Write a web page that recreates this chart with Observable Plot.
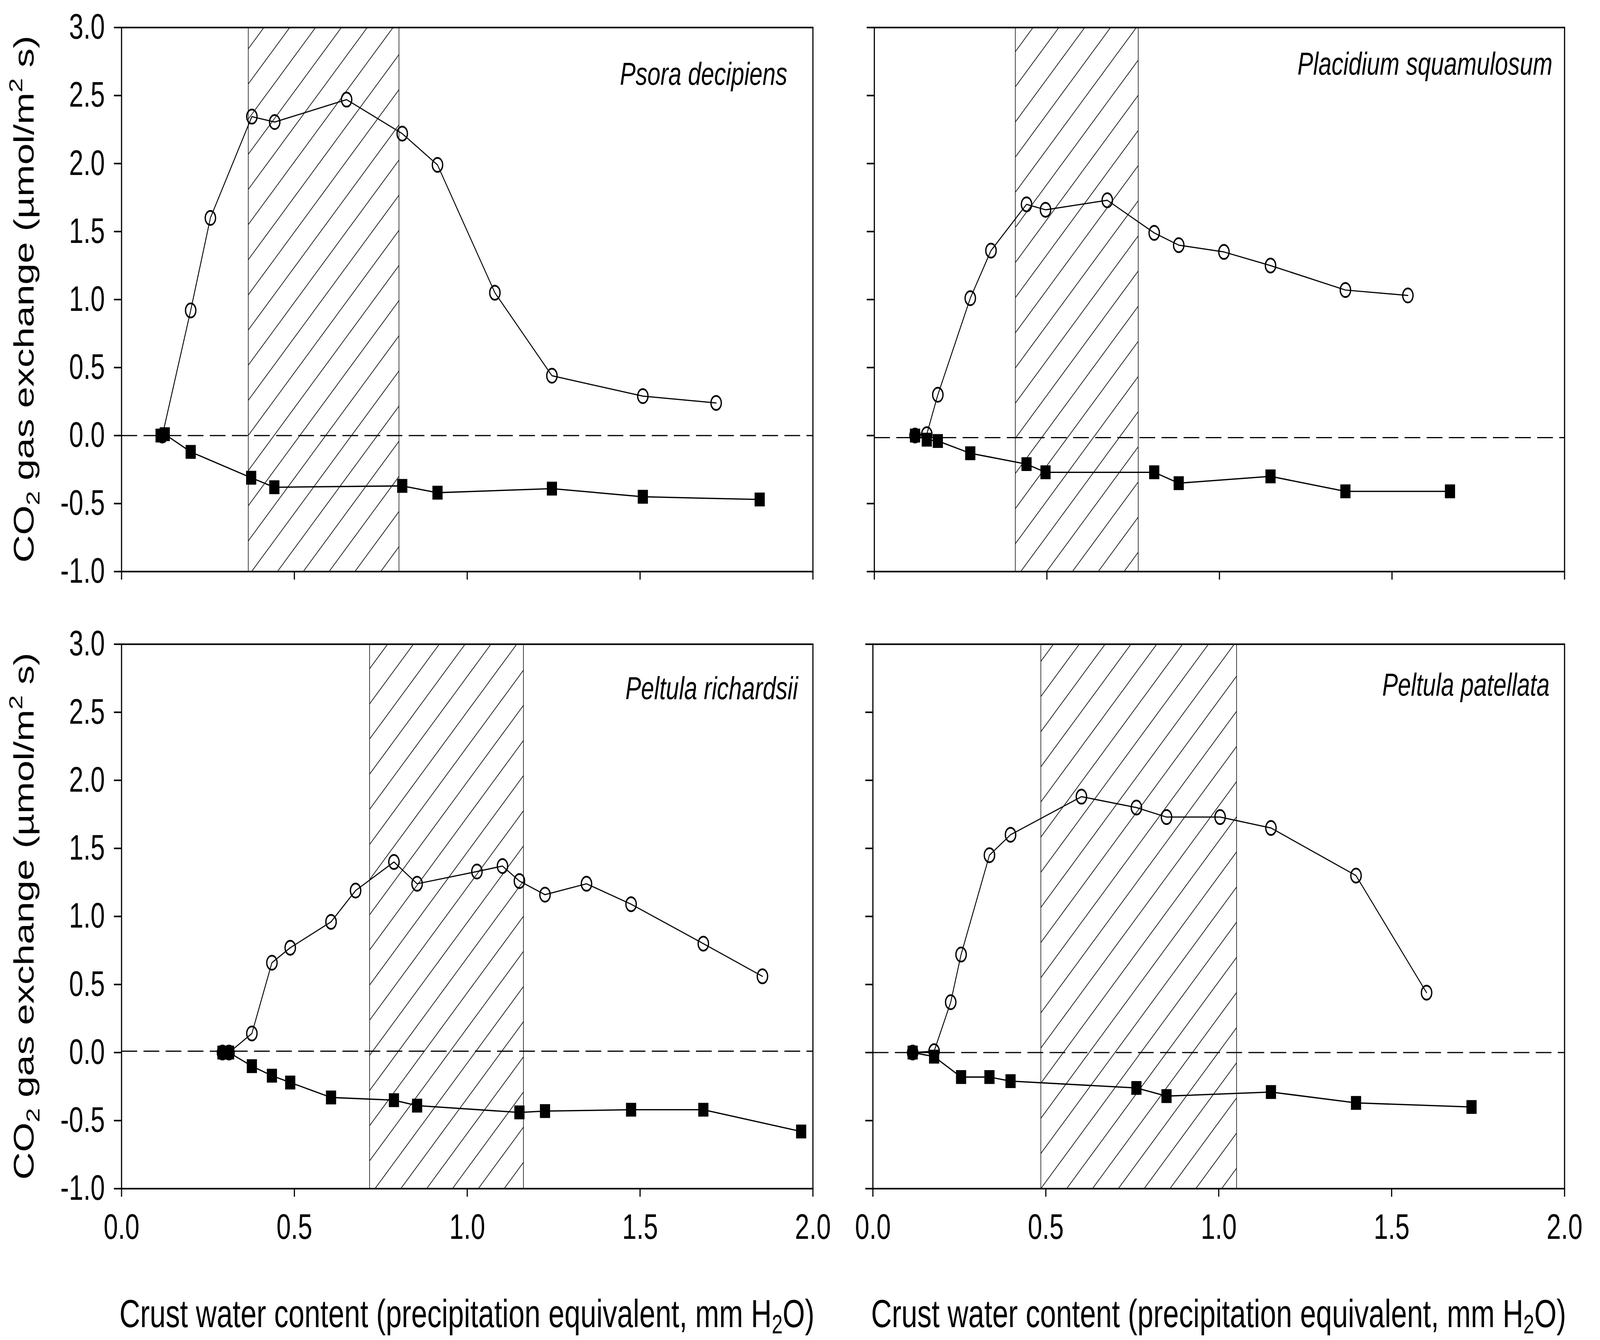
<!DOCTYPE html>
<html><head><meta charset="utf-8">
<script src="https://cdn.jsdelivr.net/npm/d3@7"></script>
<script src="https://cdn.jsdelivr.net/npm/@observablehq/plot@0.6"></script>
<style>
html,body{margin:0;padding:0;background:#fff;overflow:hidden;}
#outer{position:relative;overflow:hidden;background:#fff;}
#root{position:absolute;left:0;top:0;width:5575px;height:3431px;background:#fff;overflow:hidden;transform-origin:0 0;font-family:"Liberation Sans",Arial,sans-serif;}
.panel{position:absolute;}
#overlay{position:absolute;left:0;top:0;pointer-events:none;}
</style></head><body><div id="outer"><div id="root"></div></div>
<script>
// ---------- data ----------
const species = ["Psora decipiens", "Placidium squamulosum", "Peltula richardsii", "Peltula patellata"];

const psoraOpenX   = [0.118, 0.20, 0.257, 0.377, 0.443, 0.651, 0.812, 0.914, 1.080, 1.245, 1.508, 1.720];
const psoraOpenY   = [0.00, 0.92, 1.60, 2.345, 2.305, 2.47, 2.22, 1.99, 1.05, 0.44, 0.29, 0.24];
const psoraFilledX = [0.113, 0.125, 0.20, 0.375, 0.442, 0.812, 0.914, 1.245, 1.508, 1.846];
const psoraFilledY = [0.00, 0.01, -0.12, -0.31, -0.38, -0.37, -0.42, -0.39, -0.45, -0.47];

const placOpenX   = [0.118, 0.152, 0.184, 0.278, 0.338, 0.441, 0.496, 0.675, 0.811, 0.882, 1.013, 1.148, 1.365, 1.546];
const placOpenY   = [0.00, 0.01, 0.30, 1.01, 1.36, 1.70, 1.66, 1.73, 1.49, 1.40, 1.35, 1.25, 1.07, 1.03];
const placFilledX = [0.118, 0.152, 0.184, 0.278, 0.441, 0.496, 0.811, 0.882, 1.148, 1.365, 1.668];
const placFilledY = [0.00, -0.03, -0.04, -0.13, -0.21, -0.27, -0.27, -0.35, -0.30, -0.41, -0.41];

const richOpenX   = [0.292, 0.311, 0.377, 0.435, 0.488, 0.606, 0.677, 0.788, 0.855, 1.028, 1.102, 1.151, 1.225, 1.345, 1.474, 1.683, 1.854];
const richOpenY   = [0.00, 0.00, 0.14, 0.66, 0.77, 0.96, 1.19, 1.40, 1.24, 1.33, 1.37, 1.26, 1.16, 1.24, 1.09, 0.80, 0.56];
const richFilledX = [0.292, 0.311, 0.377, 0.435, 0.488, 0.606, 0.788, 0.855, 1.151, 1.225, 1.474, 1.683, 1.966];
const richFilledY = [0.00, 0.00, -0.10, -0.17, -0.22, -0.33, -0.35, -0.39, -0.44, -0.43, -0.42, -0.42, -0.58];

const patOpenX   = [0.115, 0.177, 0.225, 0.255, 0.337, 0.398, 0.603, 0.762, 0.849, 1.004, 1.151, 1.397, 1.601];
const patOpenY   = [0.00, 0.01, 0.37, 0.72, 1.45, 1.60, 1.88, 1.80, 1.73, 1.73, 1.65, 1.30, 0.44];
const patFilledX = [0.115, 0.177, 0.255, 0.337, 0.398, 0.762, 0.849, 1.151, 1.397, 1.731];
const patFilledY = [0.00, -0.03, -0.18, -0.18, -0.21, -0.26, -0.32, -0.29, -0.37, -0.40];

// hatched optimum ranges (x from, x to)
const bandStart = [0.367, 0.409, 0.718, 0.486];
const bandEnd   = [0.803, 0.765, 1.163, 1.052];
// zero reference line as drawn
const zeroLine = [0.0, -0.015, 0.01, 0.0];

const xTicks = [0, 0.5, 1.0, 1.5, 2.0];
const yTicks = [-1.0, -0.5, 0.0, 0.5, 1.0, 1.5, 2.0, 2.5, 3.0];
const xDomain = [0, 2];
const yDomain = [-1, 3];

const xTitle = "Crust water content (precipitation equivalent, mm H";
const yTitleA = "CO", yTitleB = " gas exchange (µmol/m", yTitleC = " s)";

// ---------- layout (styles / positions) ----------
const openX = [psoraOpenX, placOpenX, richOpenX, patOpenX];
const openY = [psoraOpenY, placOpenY, richOpenY, patOpenY];
const filledX = [psoraFilledX, placFilledX, richFilledX, patFilledX];
const filledY = [psoraFilledY, placFilledY, richFilledY, patFilledY];

const layout = [
  {left: 0,    top: 0,    width: 2900, height: 1560, mL: 423, mR: 68,  mT: 70, mB: 97,  xLab: false, yLab: true,  tdx: -89, tdy: 88},
  {left: 2950, top: 0,    width: 2625, height: 1560, mL: 96,  mR: 124, mT: 70, mB: 97,  xLab: false, yLab: false, tdx: -42, tdy: 62},
  {left: 0,    top: 1560, width: 2900, height: 1640, mL: 423, mR: 68,  mT: 89, mB: 157, xLab: true,  yLab: true,  tdx: -52, tdy: 82},
  {left: 2950, top: 1560, width: 2625, height: 1640, mL: 91,  mR: 124, mT: 89, mB: 157, xLab: true,  yLab: false, tdx: -52, tdy: 73}
];

// map the 5575x3431 drawing onto the window the page actually gets
const W = 5575, H = 3431;
const sx = Math.min(1, (window.innerWidth || W) / W);
const sy = Math.min(1, (window.innerHeight || H) / H);
const outer = document.getElementById("outer");
outer.style.width = (W * sx) + "px";
outer.style.height = (H * sy) + "px";
const root = document.getElementById("root");
root.style.transform = `scale(${sx}, ${sy})`;

const fmt = d => d.toFixed(1);

layout.forEach((L, i) => {
  const opens = openX[i].map((x, k) => ({x, y: openY[i][k]}));
  const filled = filledX[i].map((x, k) => ({x, y: filledY[i][k]}));
  const band = [{x1: bandStart[i], x2: bandEnd[i]}];
  const pid = "hatch" + i;

  const svg = Plot.plot({
    width: L.width, height: L.height,
    marginLeft: L.mL, marginRight: L.mR, marginTop: L.mT, marginBottom: L.mB,
    style: {fontFamily: '"Liberation Sans", Arial, sans-serif', fontSize: "90px", background: "transparent", overflow: "visible", color: "black"},
    x: {domain: xDomain, axis: null},
    y: {domain: yDomain, axis: null},
    marks: [
      Plot.rect(band, {x1: "x1", x2: "x2", fill: `url(#${pid})`, stroke: "black", strokeWidth: 2}),
      Plot.ruleY([zeroLine[i]], {stroke: "black", strokeWidth: 3, strokeDasharray: "55,22"}),
      Plot.line(opens, {x: "x", y: "y", stroke: "black", strokeWidth: 3}),
      Plot.line(filled, {x: "x", y: "y", stroke: "black", strokeWidth: 3.3}),
      Plot.dot(opens, {x: "x", y: "y", r: 18, fill: "none", stroke: "black", strokeWidth: 4.5}),
      Plot.dot(filled, {x: "x", y: "y", r: 20, symbol: "square", fill: "black", stroke: "none"}),
      Plot.frame({stroke: "black", strokeWidth: 4}),
      Plot.axisX({ticks: xTicks, anchor: "bottom", tickSize: 21, tickPadding: 44, strokeWidth: 4,
                  tickFormat: L.xLab ? fmt : () => "", fontSize: 90, label: null}),
      Plot.axisY({ticks: yTicks, anchor: "left", tickSize: 26, tickPadding: 32, strokeWidth: 4,
                  tickFormat: L.yLab ? fmt : () => "", fontSize: 90, label: null}),
      Plot.text([species[i]], {text: d => d, frameAnchor: "top-right", textAnchor: "end", lineAnchor: "top",
                  dx: L.tdx, dy: L.tdy, fontStyle: "italic", fontSize: 82, fill: "black"})
    ]
  });

  d3.select(svg).insert("defs", ":first-child").html(
    `<pattern id="${pid}" patternUnits="userSpaceOnUse" width="90" height="90">
       <path d="M0,90 L90,0 M-22,22 L22,-22 M68,112 L112,68" stroke="black" stroke-width="2" fill="none"/>
     </pattern>`);

  const div = document.createElement("div");
  div.className = "panel";
  div.style.left = L.left + "px";
  div.style.top = L.top + "px";
  div.appendChild(svg);
  root.appendChild(div);
});

// ---------- axis titles (text overlay) ----------
const ov = d3.select(root).append("svg").attr("id", "overlay")
  .attr("width", W).attr("height", H)
  .style("font-family", '"Liberation Sans", Arial, sans-serif');

[1627, 4246].forEach(cx => {
  const t = ov.append("text").attr("x", cx).attr("y", 3398).attr("text-anchor", "middle")
    .attr("font-size", 100).attr("fill", "black");
  t.append("tspan").text(xTitle);
  t.append("tspan").attr("font-size", 68).attr("dy", 16).text("2");
  t.append("tspan").attr("dy", -16).text("O)");
});

[766, 2346].forEach(cy => {
  const t = ov.append("text").attr("transform", `translate(117,${cy}) rotate(-90)`)
    .attr("text-anchor", "middle").attr("font-size", 98).attr("fill", "black");
  t.append("tspan").text(yTitleA);
  t.append("tspan").attr("font-size", 66).attr("dy", 20).text("2");
  t.append("tspan").attr("dy", -20).text(yTitleB);
  t.append("tspan").attr("font-size", 66).attr("dy", -40).text("2");
  t.append("tspan").attr("dy", 40).text(yTitleC);
});
</script>
</body></html>
